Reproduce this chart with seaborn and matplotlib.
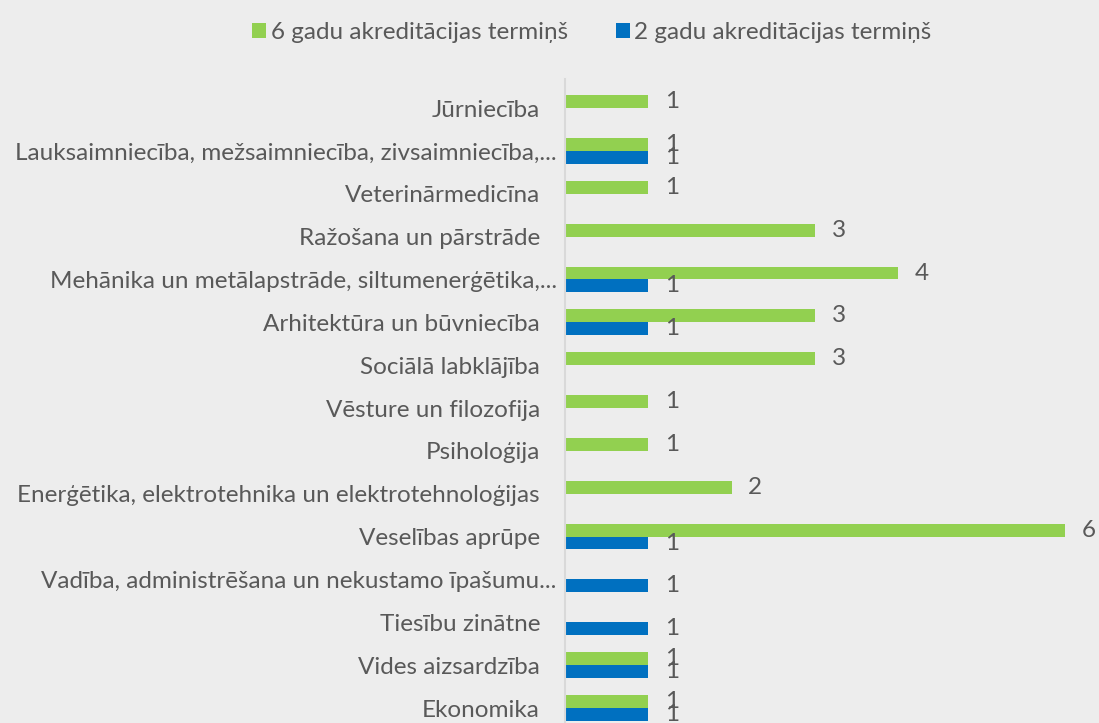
import numpy as np
import pandas as pd
import matplotlib
matplotlib.use("Agg")
import matplotlib.pyplot as plt
import matplotlib.transforms as mtransforms
import seaborn as sns

categories = [
    "Jūrniecība",
    "Lauksaimniecība, mežsaimniecība, zivsaimniecība,...",
    "Veterinārmedicīna",
    "Ražošana un pārstrāde",
    "Mehānika un metālapstrāde, siltumenerģētika,...",
    "Arhitektūra un būvniecība",
    "Sociālā labklājība",
    "Vēsture un filozofija",
    "Psiholoģija",
    "Enerģētika, elektrotehnika un elektrotehnoloģijas",
    "Veselības aprūpe",
    "Vadība, administrēšana un nekustamo īpašumu...",
    "Tiesību zinātne",
    "Vides aizsardzība",
    "Ekonomika",
]
series_names = ["6 gadu akreditācijas termiņš", "2 gadu akreditācijas termiņš"]
six_years = [1, 1, 1, 3, 4, 3, 3, 1, 1, 2, 6, np.nan, np.nan, 1, 1]
two_years = [np.nan, 1, np.nan, np.nan, 1, 1, np.nan, np.nan, np.nan, np.nan, 1, 1, 1, 1, 1]

df = pd.DataFrame({
    "category": categories * 2,
    "series": [series_names[0]] * len(categories) + [series_names[1]] * len(categories),
    "value": six_years + two_years,
})

sns.set_style("white")
plt.rcParams["font.family"] = ["Lato", "DejaVu Sans"]
text_col = "#595959"
bg = "#ededed"
fs = 17.5

fig = plt.figure(figsize=(10.99, 7.23), dpi=100, facecolor=bg)
ax = fig.add_axes([565 / 1099, 0, 1 - 565 / 1099, 1 - 79 / 723])
ax.set_facecolor(bg)

sns.barplot(data=df, y="category", x="value", hue="series", orient="h",
            palette=["#92d050", "#0070c0"], width=0.6, dodge=True,
            saturation=1, linewidth=0, ax=ax, legend=True)

for cont in ax.containers:
    ax.bar_label(cont, padding=12, fontsize=fs, color=text_col)

ax.set_xlim(0, 6.41)
ax.set_ylim(14.35, -0.677)
ax.set_xlabel("")
ax.set_ylabel("")
ax.set_xticks([])
ax.tick_params(axis="y", length=0, pad=18, labelsize=fs, labelcolor=text_col)
# truncated labels sit a bit closer to the axis, like in Excel
shift = mtransforms.ScaledTranslation(12 / 72, 0, fig.dpi_scale_trans)
for lbl in ax.get_yticklabels():
    if lbl.get_text().endswith("..."):
        lbl.set_transform(lbl.get_transform() + shift)
for s in ["top", "right", "bottom"]:
    ax.spines[s].set_visible(False)
ax.spines["left"].set_color("#d9d9d9")
ax.spines["left"].set_linewidth(1.5)

ax.legend(loc="upper center", bbox_to_anchor=(592 / 1099, 1.0), bbox_transform=fig.transFigure,
          ncol=2, frameon=False, fontsize=fs, labelcolor=text_col,
          handlelength=0.55, handleheight=0.55, handletextpad=0.2, columnspacing=2.0)

fig.savefig("out.png", dpi=100, facecolor=bg)
